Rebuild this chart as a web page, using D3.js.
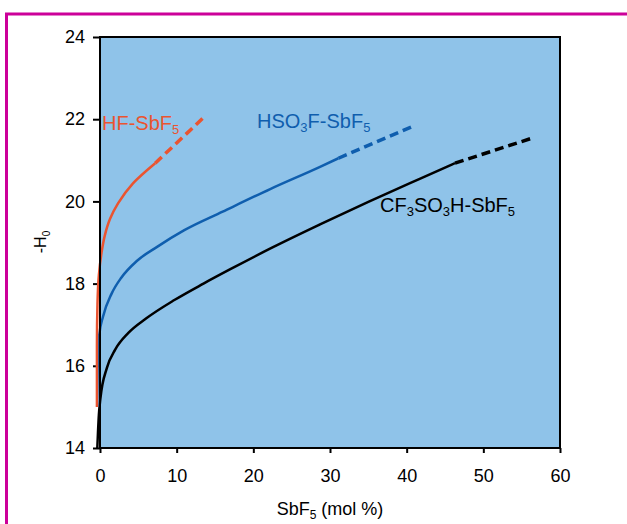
<!DOCTYPE html>
<html>
<head>
<meta charset="utf-8">
<script src="https://cdn.jsdelivr.net/npm/d3@7"></script>
<style>
  body { margin: 0; background: #fff; }
  text { font-family: "Liberation Sans", Arial, sans-serif; }
</style>
</head>
<body>
<div id="chart"></div>
<script>
// Data (x = SbF5 mol %, y = -H0)
var hfX = [-0.4, -0.4, -0.33, -0.15, 0.2, 0.6, 1.3, 2.35, 4.3, 7.2];
var hfY = [15, 16.5, 17.5, 18.2, 18.75, 19.15, 19.57, 19.95, 20.44, 20.93];
var hfDashX = [7.2, 13.4];
var hfDashY = [20.93, 22.02];

var fsoX = [-0.35, -0.3, -0.1, 0.4, 1.5, 2.8, 4.8, 7.5, 11, 16, 22.2, 28.7, 31.1];
var fsoY = [15, 16, 16.75, 17.2, 17.75, 18.15, 18.55, 18.9, 19.3, 19.75, 20.3, 20.84, 21.05];
var fsoDashX = [31.1, 41.1];
var fsoDashY = [21.05, 21.85];

var tfX = [-0.35, -0.15, 0.05, 0.9, 2, 3.7, 6, 9.7, 13.5, 17, 22.5, 28.7, 35, 41.7, 46.3];
var tfY = [14, 14.8, 15.2, 15.95, 16.4, 16.8, 17.15, 17.6, 18.0, 18.35, 18.88, 19.44, 19.99, 20.55, 20.93];
var tfDashX = [46.3, 56.7];
var tfDashY = [20.93, 21.56];

var xTicks = [0, 10, 20, 30, 40, 50, 60];
var yTicks = [14, 16, 18, 20, 22, 24];

var width = 627,
    height = 524,
    plotLeft = 100,
    plotRight = 560,
    plotTop = 37,
    plotBottom = 448,
    red = '#ea5430',
    blue = '#0f5eae',
    black = '#000',
    fill = '#8fc3e9';

var svg = d3.select('#chart').append('svg')
    .attr('width', width)
    .attr('height', height);

// magenta frame
svg.append('line')
   .attr('x1', 5).attr('y1', 14).attr('x2', width).attr('y2', 14)
   .attr('stroke', '#cc0099').attr('stroke-width', 3);
svg.append('line')
   .attr('x1', 6.5).attr('y1', 13).attr('x2', 6.5).attr('y2', height)
   .attr('stroke', '#cc0099').attr('stroke-width', 3);

var x = d3.scaleLinear().domain([0, 60]).range([plotLeft, plotRight]);
var y = d3.scaleLinear().domain([14, 24]).range([plotBottom, plotTop]);

svg.append('rect')
   .attr('x', plotLeft).attr('y', plotTop)
   .attr('width', plotRight - plotLeft).attr('height', plotBottom - plotTop)
   .attr('fill', fill);

var xAxis = svg.append('g')
   .attr('transform', 'translate(0,' + plotBottom + ')')
   .call(d3.axisBottom(x).tickValues(xTicks).tickSize(5).tickSizeOuter(0).tickPadding(16));
var yAxis = svg.append('g')
   .attr('transform', 'translate(' + plotLeft + ',0)')
   .call(d3.axisLeft(y).tickValues(yTicks).tickSize(7).tickSizeOuter(0).tickPadding(8));

[xAxis, yAxis].forEach(function(a){
  a.select('.domain').remove();
  a.selectAll('line').attr('stroke', '#000').attr('stroke-width', 2);
  a.selectAll('text')
   .attr('fill', '#000')
   .style('font-size', '18px')
   .style('font-family', '"Liberation Sans", Arial, sans-serif');
});

function pts(xs, ys){
  return xs.map(function(d, i){ return [d, ys[i]]; });
}

var line = d3.line()
    .x(function(d){ return x(d[0]); })
    .y(function(d){ return y(d[1]); })
    .curve(d3.curveMonotoneX);

// the HF curve starts straight up, so it is interpolated along y
var lineY = d3.line()
    .x(function(d){ return x(d[0]); })
    .y(function(d){ return y(d[1]); })
    .curve(d3.curveMonotoneY);

var curves = svg.append('g');

function drawCurve(xs, ys, dxs, dys, color, gen){
  curves.append('path')
     .attr('d', gen(pts(xs, ys)))
     .attr('fill', 'none')
     .attr('stroke', color)
     .attr('stroke-width', 2.5);
  curves.append('path')
     .attr('d', line(pts(dxs, dys)))
     .attr('fill', 'none')
     .attr('stroke', color)
     .attr('stroke-width', 3.5)
     .attr('stroke-dasharray', '9,5');
}

drawCurve(tfX, tfY, tfDashX, tfDashY, black, line);
drawCurve(fsoX, fsoY, fsoDashX, fsoDashY, blue, line);
drawCurve(hfX, hfY, hfDashX, hfDashY, red, lineY);

// plot frame on top
svg.append('rect')
   .attr('x', plotLeft).attr('y', plotTop)
   .attr('width', plotRight - plotLeft).attr('height', plotBottom - plotTop)
   .attr('fill', 'none')
   .attr('stroke', '#000')
   .attr('stroke-width', 2);

// labels with subscripts: parts are [text, isSub]
function label(parts, px, py, size, color, rotate){
  var t = svg.append('text')
     .attr('fill', color)
     .style('font-size', size + 'px');
  if(rotate){
    t.attr('transform', 'translate(' + px + ',' + py + ') rotate(-90)')
     .attr('text-anchor', 'middle');
  }else{
    t.attr('x', px).attr('y', py);
  }
  parts.forEach(function(p, i){
    var s = t.append('tspan').text(p[0]);
    var prev = parts[i - 1];
    if(p[1]){
      s.style('font-size', Math.round(size * 0.65) + 'px').attr('dy', size * 0.22);
    }else if(prev && prev[1]){
      s.attr('dy', -size * 0.22);
    }
  });
  return t;
}

label([['HF-SbF', false], ['5', true]], 102, 130, 20, red);
label([['HSO', false], ['3', true], ['F-SbF', false], ['5', true]], 257, 128, 20, blue);
label([['CF', false], ['3', true], ['SO', false], ['3', true], ['H-SbF', false], ['5', true]], 380, 212, 20, black);

label([['SbF', false], ['5', true], [' (mol %)', false]], 330, 515, 18, '#000')
  .attr('text-anchor', 'middle');
label([['-H', false], ['0', true]], 46, 242, 16, '#000', true);
</script>
</body>
</html>
